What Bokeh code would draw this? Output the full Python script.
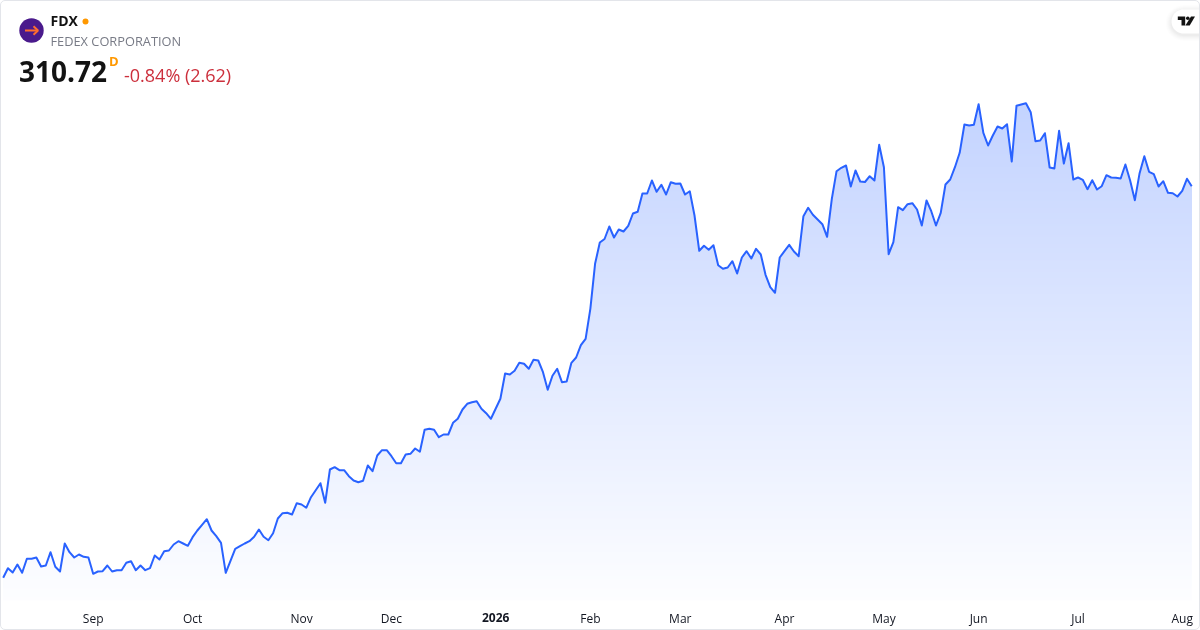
import numpy as np
from bokeh.plotting import figure
from bokeh.models import Range1d, FixedTicker, Label, InlineStyleSheet, LinearAxis
from bokeh.embed import file_html
from bokeh.resources import INLINE

symbol = "FDX"
company = "FEDEX CORPORATION"
last_text = "310.72"
interval = "D"
change_text = "-0.84% (2.62)"

tick_index = [19, 40, 63, 82, 104, 124, 143, 165, 186, 206, 227, 249]
tick_labels = ["Sep", "Oct", "Nov", "Dec", "2026", "Feb", "Mar", "Apr", "May", "Jun", "Jul", "Aug"]

close = [
    232.40, 234.32, 233.46, 235.06, 233.40, 236.20, 236.20, 236.46, 234.66, 234.86,
    237.52, 234.60, 233.66, 239.26, 237.52, 236.46, 237.06, 236.60, 236.46, 233.20,
    233.66, 233.72, 234.86, 233.66, 233.92, 233.92, 235.40, 235.72, 233.92, 234.86,
    233.92, 234.32, 236.86, 236.06, 237.72, 237.86, 239.06, 239.72, 239.26, 238.80,
    240.52, 241.86, 243.00, 244.12, 241.86, 240.72, 239.40, 233.40, 235.80, 238.20,
    238.72, 239.26, 239.72, 240.60, 242.06, 240.60, 239.92, 241.32, 244.26, 245.32,
    245.40, 245.06, 247.32, 247.06, 246.40, 248.52, 249.92, 251.32, 247.40, 254.06,
    254.52, 253.92, 253.92, 252.72, 251.86, 251.52, 251.80, 254.86, 253.72, 256.86,
    257.92, 257.92, 256.72, 255.32, 255.32, 257.06, 257.20, 258.26, 257.60, 262.00,
    262.20, 262.00, 260.52, 261.06, 261.06, 263.40, 264.20, 266.06, 267.20, 267.52,
    267.72, 266.20, 265.32, 264.20, 266.20, 268.20, 273.26, 273.06, 273.80, 275.40,
    275.20, 274.20, 276.00, 275.86, 273.52, 270.00, 272.80, 274.20, 271.52, 271.66,
    275.40, 276.46, 278.92, 280.20, 286.20, 295.20, 299.46, 300.16, 302.66, 300.46,
    302.06, 301.66, 302.80, 305.26, 305.60, 309.26, 309.26, 311.86, 309.60, 311.00,
    309.06, 311.52, 311.20, 311.26, 309.06, 309.72, 304.86, 297.80, 298.80, 298.00,
    298.92, 294.92, 294.20, 294.46, 295.72, 293.26, 296.46, 297.72, 296.26, 298.20,
    297.06, 293.00, 290.52, 289.40, 296.46, 297.72, 299.00, 297.66, 296.72, 304.72,
    306.40, 305.00, 304.06, 303.12, 300.60, 308.20, 313.72, 314.40, 314.86, 310.66,
    313.86, 311.66, 311.56, 312.72, 311.86, 319.00, 314.52, 297.12, 299.52, 306.52,
    305.92, 307.12, 307.32, 306.06, 302.86, 307.86, 305.72, 302.86, 305.40, 311.06,
    312.06, 314.52, 317.40, 323.06, 322.86, 323.00, 327.12, 321.40, 318.86, 320.86,
    322.66, 322.26, 323.12, 315.66, 326.80, 327.06, 327.32, 325.52, 319.72, 319.86,
    321.32, 314.46, 314.26, 321.80, 315.26, 319.32, 312.06, 312.46, 312.00, 310.12,
    311.92, 310.06, 310.72, 312.92, 312.46, 312.40, 312.26, 315.06, 311.86, 307.92,
    313.32, 316.72, 313.60, 313.12, 310.66, 311.72, 309.40, 309.32, 308.66, 309.80,
    312.20, 310.72,
]


def px(x):
    return (np.asarray(x, dtype=float) - 2.7) / 4.735


def py(y):
    return 347.86 - 0.2 * np.asarray(y, dtype=float)


card_css = InlineStyleSheet(css="""
:host { position: fixed !important; left: 0 !important; top: 0 !important; }
:host::after { content: ""; position: absolute; inset: 0; box-sizing: border-box;
  border: 1px solid #e3e5ea; border-radius: 5px; pointer-events: none; }
""")

p = figure(width=1200, height=630, output_backend="svg", toolbar_location=None,
           x_range=Range1d(float(px(0)), float(px(1200))),
           y_range=Range1d(float(py(630)), float(py(0))),
           min_border=0, x_axis_location=None, y_axis_location=None,
           background_fill_color="white", border_fill_color="white")
p.stylesheets = [card_css]
p.outline_line_color = None
p.grid.visible = False


def make_axis(pairs, style, standoff):
    ax = LinearAxis(ticker=FixedTicker(ticks=[i for i, _ in pairs]),
                    major_label_overrides=dict(pairs),
                    fixed_location=float(py(608)))
    ax.axis_line_color = None
    ax.major_tick_line_color = None
    ax.minor_tick_line_color = None
    ax.major_tick_out = 0
    ax.major_tick_in = 0
    ax.major_label_standoff = standoff
    ax.major_label_text_font = "Open Sans"
    ax.major_label_text_font_size = "12px"
    ax.major_label_text_font_style = style
    ax.major_label_text_color = "#131722"
    p.add_layout(ax, "below")


make_axis([(i, t) for i, t in zip(tick_index, tick_labels) if t != "2026"], "normal", 1)
make_axis([(i, t) for i, t in zip(tick_index, tick_labels) if t == "2026"], "bold", 4)

# gradient area: opaque bands painted bottom to top, clipped under the line
xs = np.arange(len(close))
line = np.array(close)
levels = np.arange(float(py(600)), line.max() + 0.4, 0.4)
bottom = levels[0]
top = line.max()
for lv in levels:
    t = (lv - bottom) / (top - bottom)
    a = 0.01 + (0.28 - 0.01) * min(t, 1.0)
    col = "#%02x%02x%02x" % (round(255 - 214 * a), round(255 - 157 * a), 255)
    p.varea(xs, np.minimum(line, lv), line, fill_color=col, fill_alpha=1.0)
p.line(xs, line, line_color="#2962ff", line_width=2, line_join="round")

# logo
p.scatter([float(px(31))], [float(py(30))], marker="circle", size=24.4, fill_color="#4a1a8c", line_color=None)
p.line(px([24.5, 37]), py([30, 30]), line_color="#ff6d2e", line_width=2)
p.line(px([33, 37.5, 33]), py([25.8, 30, 34.2]), line_color="#ff6d2e", line_width=2)
p.scatter([float(px(85))], [float(py(21))], marker="circle", size=6, fill_color="#ff9800", line_color=None)


def txt(x, y, s, size, color, style="normal"):
    p.add_layout(Label(x=float(px(x)), y=float(py(y)), text=s, text_font="Open Sans",
                       text_font_size=size, text_color=color, text_font_style=style,
                       text_align="left", text_baseline="middle"))


txt(50, 20, symbol, "14px", "#131313", "bold")
txt(50, 40, company, "12.8px", "#787b86")
txt(18.5, 71, last_text, "28px", "#131313", "bold")
txt(108.5, 60.5, interval, "13px", "#ff9800", "bold")
txt(123.5, 74, change_text, "18px", "#cc2f3c")

# TradingView badge
ang = np.linspace(np.pi / 2, 3 * np.pi / 2, 24)
for grow, alpha in [(6, 0.008), (5, 0.009), (4, 0.01), (3, 0.012), (2, 0.014), (1, 0.016)]:
    r = 12 + grow
    p.patch(px(np.r_[1183 + r * np.cos(ang), 1199.5, 1199.5]),
            py(np.r_[22.5 + r * np.sin(ang), 22.5 - r, 22.5 + r]),
            fill_color="#000000", fill_alpha=alpha, line_color=None)
p.patch(px(np.r_[1183 + 12 * np.cos(ang), 1199.5, 1199.5]),
        py(np.r_[21 + 12 * np.sin(ang), 9, 33]), fill_color="white", line_color=None)
p.patch(px([1177.3, 1184.7, 1184.7, 1181, 1181, 1177.3]), py([16, 16, 25, 25, 19.5, 19.5]),
        fill_color="#131313", line_color=None)
p.patch(px([1190.5, 1194.5, 1189.2, 1184.9]), py([16, 16, 25, 25]), fill_color="#131313", line_color=None)
p.scatter([float(px(1187.3))], [float(py(17.8))], marker="circle", size=3.6, fill_color="#131313", line_color=None)

open("out.html", "w").write(file_html(p, INLINE))
